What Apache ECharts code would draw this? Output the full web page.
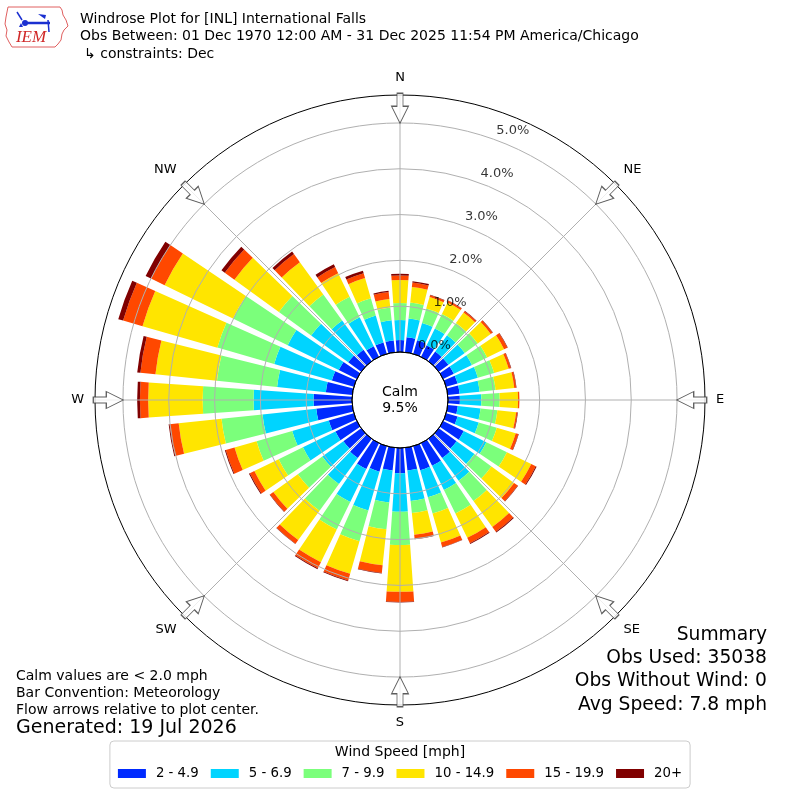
<!DOCTYPE html>
<html><head><meta charset="utf-8">
<script src="https://cdn.jsdelivr.net/npm/echarts@6/dist/echarts.min.js"></script>
<style>html,body{margin:0;padding:0;background:#fff}#c{width:800px;height:800px}</style>
</head><body><div id="c"></div>
<script>
// ---- data (percent of observations, by direction the wind blows from) ----
const directions = ['0','10','20','30','40','50','60','70','80','90','100','110','120','130','140','150','160','170',
  '180','190','200','210','220','230','240','250','260','270','280','290','300','310','320','330','340','350'];
const speedBins = ['2 - 4.9', '5 - 6.9', '7 - 9.9', '10 - 14.9', '15 - 19.9', '20+'];
const pct2to4 = [0.26,0.33,0.31,0.28,0.26,0.26,0.26,0.26,0.26,0.26,0.22,0.26,0.50,0.48,0.52,0.55,0.55,0.50,
  0.55,0.50,0.58,0.63,0.52,0.48,0.52,0.57,0.79,0.84,0.58,0.50,0.44,0.35,0.31,0.26,0.26,0.26];
const pct5to6 = [0.44,0.41,0.39,0.41,0.44,0.44,0.44,0.46,0.44,0.47,0.50,0.48,0.55,0.48,0.61,0.59,0.61,0.67,
  0.84,0.70,0.88,0.80,0.70,0.57,0.79,0.83,1.18,1.31,1.07,1.31,1.24,1.00,0.79,0.70,0.61,0.44];
const pct7to9 = [0.37,0.35,0.33,0.35,0.33,0.35,0.37,0.37,0.35,0.40,0.37,0.41,0.50,0.46,0.55,0.57,0.37,0.26,
  0.73,0.59,0.70,0.67,0.72,0.66,0.59,0.81,0.90,1.11,1.32,1.29,1.33,0.87,0.70,0.50,0.39,0.28];
const pct10to14 = [0.50,0.34,0.26,0.28,0.28,0.35,0.41,0.33,0.41,0.40,0.41,0.43,0.59,0.61,0.70,0.59,0.66,0.48,
  1.02,0.79,0.74,0.79,0.79,0.66,0.59,0.50,0.94,1.19,1.35,1.70,1.66,1.20,0.87,0.57,0.46,0.19];
const pct15to19 = [0.10,0.10,0.04,0.04,0.04,0.05,0.08,0.05,0.04,0.03,0.03,0.06,0.11,0.10,0.13,0.13,0.10,0.09,
  0.22,0.17,0.15,0.15,0.10,0.09,0.11,0.20,0.20,0.18,0.33,0.44,0.33,0.26,0.22,0.15,0.11,0.15];
const pct20plus = [0.04,0.03,0.01,0.01,0.01,0.01,0.01,0.01,0.01,0.00,0.01,0.01,0.02,0.01,0.02,0.02,0.01,0.01,
  0.01,0.01,0.02,0.02,0.01,0.01,0.02,0.02,0.02,0.06,0.07,0.11,0.13,0.09,0.07,0.07,0.06,0.03];
const calmPct = 9.5;
const ringTicks = [0, 1, 2, 3, 4, 5];
const compassLabels = ['N','NE','E','SE','S','SW','W','NW'];
const compassAngles = [0, 45, 90, 135, 180, 225, 270, 315];
const titleLines = ['Windrose Plot for [INL] International Falls',
  'Obs Between: 01 Dec 1970 12:00 AM - 31 Dec 2025 11:54 PM America/Chicago',
  '\u21B3 constraints: Dec'];
const noteLines = ['Calm values are < 2.0 mph', 'Bar Convention: Meteorology', 'Flow arrows relative to plot center.'];
const generatedText = 'Generated: 19 Jul 2026';
const summaryLines = ['Summary', 'Obs Used: 35038', 'Obs Without Wind: 0', 'Avg Speed: 7.8 mph'];
const legendTitle = 'Wind Speed [mph]';

// ---- styling ----
const FONT = 'DejaVu Sans';
const colors = ['#002aff', '#00d4ff', '#7bff7b', '#ffe500', '#ff4800', '#800000'];
const seriesVals = [pct2to4, pct5to6, pct7to9, pct10to14, pct15to19, pct20plus];
const rMax = 5.61;
const ringLabelAngle = 20;
const arrowR = 5.32;
const arrowPath = 'path://M5.5,0 L11.5,0 L11.5,13 L17,13 L8.5,30 L0,13 L5.5,13 Z';
const gridColor = '#b0b0b0';

const chart = echarts.init(document.getElementById('c'), null, {renderer: 'canvas'});

const barSeries = seriesVals.map((vals, k) => ({
  type: 'bar', coordinateSystem: 'polar', polarIndex: 0, name: speedBins[k], stack: 'speed',
  data: vals, barCategoryGap: '20%', itemStyle: {color: colors[k]}, z: 2, silent: true
}));

const graphics = [];
titleLines.forEach((t, i) => graphics.push({type: 'text', x: i === 2 ? 84 : 80, y: 19 + i * 17.5,
  style: {text: t, fontSize: 14, fontFamily: FONT, fill: '#000', textVerticalAlign: 'middle'}}));
noteLines.forEach((t, i) => graphics.push({type: 'text', x: 16, y: 676 + i * 17.2,
  style: {text: t, fontSize: 14, fontFamily: FONT, fill: '#000', textVerticalAlign: 'middle'}}));
graphics.push({type: 'text', x: 16, y: 728.5,
  style: {text: generatedText, fontSize: 19, fontFamily: FONT, fill: '#000', textVerticalAlign: 'middle'}});
summaryLines.forEach((t, i) => graphics.push({type: 'text', x: 767, y: 635 + i * 23.3,
  style: {text: t, fontSize: 18.7, fontFamily: FONT, fill: '#000', textAlign: 'right', textVerticalAlign: 'middle'}}));
graphics.push({type: 'text', x: 400, y: 400, z: 30,
  style: {text: 'Calm\n' + calmPct.toFixed(1) + '%', fontSize: 14, lineHeight: 16, fontFamily: FONT, fill: '#000',
    textAlign: 'center', textVerticalAlign: 'middle'}});
graphics.push({type: 'text', x: 400, y: 752, z: 100,
  style: {text: legendTitle, fontSize: 14, fontFamily: FONT, fill: '#000', textAlign: 'center', textVerticalAlign: 'middle'}});
// IEM logo (decoration)
graphics.push({type: 'group', z: 50, children: [
  {type: 'polygon', shape: {points: [[8,7],[60,7],[62,10],[63,15],[66,20],[68,26],[64,30],[62,34],[61,40],[58,44],[55,47],[12,47],[9,42],[6,36],[7,30],[5,24],[6,17],[7,12]]},
    style: {fill: '#fff', stroke: '#e06060', lineWidth: 1}},
  {type: 'line', shape: {x1: 24, y1: 23, x2: 50, y2: 23}, style: {stroke: '#1a2fd0', lineWidth: 2.5}},
  {type: 'circle', shape: {cx: 25, cy: 23, r: 3}, style: {fill: '#1a2fd0'}},
  {type: 'line', shape: {x1: 17, y1: 12, x2: 22, y2: 20}, style: {stroke: '#1a2fd0', lineWidth: 1.5}},
  {type: 'polygon', shape: {points: [[38,14],[46,15],[45,19]]}, style: {fill: '#1a2fd0'}},
  {type: 'line', shape: {x1: 48, y1: 20, x2: 49, y2: 32}, style: {stroke: '#1a2fd0', lineWidth: 1.5}},
  {type: 'polygon', shape: {points: [[19,27],[23,27],[21,23]]}, style: {fill: '#1a2fd0'}},
  {type: 'text', x: 31, y: 38, style: {text: 'IEM', fontSize: 17, fontStyle: 'italic', fontFamily: 'Liberation Serif',
    fill: '#d02828', textAlign: 'center', textVerticalAlign: 'middle'}}
]});

const option = {
  animation: false,
  backgroundColor: '#fff',
  textStyle: {fontFamily: FONT},
  polar: [
    {center: ['50%', '50%'], radius: [48, 305]},
    {center: ['50%', '50%'], radius: [48, 305]},
    {center: ['50%', '50%'], radius: [0, 48]}
  ],
  angleAxis: [
    {polarIndex: 0, type: 'category', data: directions, startAngle: 95, clockwise: true,
      axisLine: {show: false}, axisTick: {show: false}, axisLabel: {show: false}, splitLine: {show: false}},
    {polarIndex: 1, type: 'value', min: 0, max: 360, interval: 45, startAngle: 90, clockwise: true, z: 10,
      axisLine: {show: true, lineStyle: {color: '#000', width: 1}}, axisTick: {show: false},
      axisLabel: {show: true, margin: 11, fontSize: 13, color: '#000', fontFamily: FONT,
        formatter: v => compassLabels[Math.round(v / 45) % 8]},
      splitLine: {show: true, lineStyle: {color: gridColor, width: 1}}},
    {polarIndex: 2, type: 'value', min: 0, max: 360, startAngle: 90, z: 12,
      axisLine: {show: true, lineStyle: {color: '#000', width: 1}}, axisTick: {show: false},
      axisLabel: {show: false}, splitLine: {show: false}}
  ],
  radiusAxis: [
    {polarIndex: 0, type: 'value', min: 0, max: rMax,
      axisLine: {show: false}, axisTick: {show: false}, axisLabel: {show: false}, splitLine: {show: false}},
    {polarIndex: 1, type: 'value', min: 0, max: rMax, interval: 1, z: 10,
      axisLine: {show: false}, axisTick: {show: false}, axisLabel: {show: false},
      splitLine: {show: true, lineStyle: {width: 1,
        color: ['rgba(0,0,0,0)', gridColor, gridColor, gridColor, gridColor, gridColor, 'rgba(0,0,0,0)']}}},
    {polarIndex: 2, type: 'value', min: 0, max: 1,
      axisLine: {show: false}, axisTick: {show: false}, axisLabel: {show: false}, splitLine: {show: false}}
  ],
  legend: {
    data: speedBins, left: 'center', top: 741, orient: 'horizontal', icon: 'rect',
    itemWidth: 28, itemHeight: 9, itemGap: 12, padding: [26, 8, 8, 8],
    borderColor: '#cccccc', borderWidth: 1, borderRadius: 4, backgroundColor: '#fff',
    selectedMode: false,
    textStyle: {fontSize: 13.3, color: '#000', fontFamily: FONT, padding: [0, 0, 0, 5]}
  },
  series: barSeries.concat([
    {type: 'scatter', coordinateSystem: 'polar', polarIndex: 1, silent: true, z: 15,
      symbolSize: 1, itemStyle: {color: 'rgba(0,0,0,0)'},
      data: ringTicks.map(v => [v, ringLabelAngle]),
      label: {show: true, position: 'inside', offset: [18, -9], fontSize: 13, color: '#000', fontFamily: FONT,
        formatter: p => p.value[0].toFixed(1) + '%'}},
    {type: 'scatter', coordinateSystem: 'polar', polarIndex: 1, silent: true, z: 20,
      symbol: arrowPath, symbolSize: [17, 30], symbolKeepAspect: false,
      itemStyle: {color: '#fff', borderColor: '#333', borderWidth: 1},
      data: compassAngles.map(a => ({value: [arrowR, a], symbolRotate: -a}))}
  ]),
  graphic: graphics
};
chart.setOption(option);
</script>
</body></html>
